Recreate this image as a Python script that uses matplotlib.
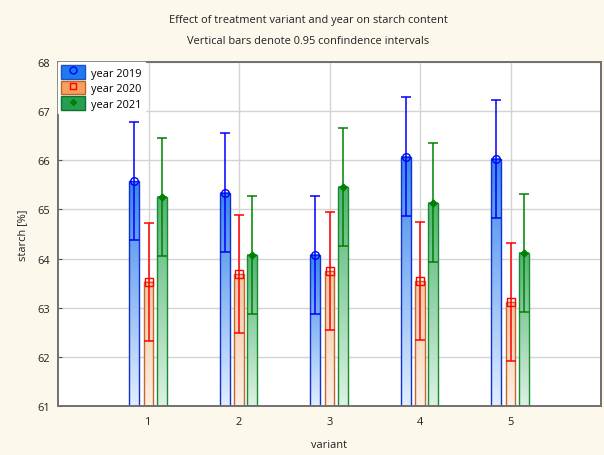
import numpy as np
import matplotlib
matplotlib.use('Agg')
import matplotlib.pyplot as plt
from matplotlib.colors import LinearSegmentedColormap
from matplotlib.patches import Patch
from matplotlib.lines import Line2D

# data
variants = [1, 2, 3, 4, 5]
years = ['year 2019', 'year 2020', 'year 2021']
mean_2019 = [65.57, 65.34, 64.08, 66.07, 66.03]
mean_2020 = [63.53, 63.68, 63.74, 63.54, 63.11]
mean_2021 = [65.26, 64.08, 65.46, 65.14, 64.12]
ci_2019 = [1.20, 1.21, 1.20, 1.21, 1.20]
ci_2020 = [1.20, 1.20, 1.20, 1.20, 1.20]
ci_2021 = [1.20, 1.20, 1.20, 1.21, 1.20]

BG = '#fdf8ec'
plt.rcParams['font.family'] = ['Open Sans', 'DejaVu Sans']
plt.rcParams['font.size'] = 7.9

styles = [
	# gradient bottom, gradient top, bar edge, error colour, marker, legend fill, legend edge
	('#e2eefd', '#3a86ec', '#1030d0', '#0000ff', 'o', '#1e7af0', '#1f4fc0'),
	('#fdf0e4', '#f5c6a0', '#c0682e', '#ff0000', 's', '#f7a060', '#c06428'),
	('#dcf2e3', '#4fb572', '#1a8a30', '#008000', 'D', '#24a050', '#107030'),
]

def draw_bars(ax, x, means, errs, st, width):
	cmap = LinearSegmentedColormap.from_list('g', [st[0], st[1]])
	grad = np.linspace(1, 0, 200).reshape(-1, 1)
	for xi, m in zip(x, means):
		ax.imshow(grad, extent=[xi - width / 2, xi + width / 2, 61, m], aspect='auto',
			cmap=cmap, origin='upper', zorder=1, interpolation='bilinear')
	ax.bar(x, np.array(means) - 61, bottom=61, width=width, facecolor='none',
		edgecolor=st[2], linewidth=1.0, zorder=2)
	ax.errorbar(x, means, yerr=errs, fmt='none', ecolor=st[3], elinewidth=1.1,
		capsize=3.6, capthick=1.1, zorder=3)
	if st[4] == 'D':
		ax.plot(x, means, linestyle='none', marker='D', markersize=3.5, color=st[3], zorder=4)
	else:
		ax.plot(x, means, linestyle='none', marker=st[4], markersize=5.5,
			markerfacecolor='none', markeredgecolor=st[3], markeredgewidth=1.0, zorder=4)

def main():
	fig = plt.figure(figsize=(6.04, 4.56), dpi=100, facecolor=BG)
	ax = fig.add_axes([58 / 604, 1 - 407 / 456, (601 - 58) / 604, (407 - 63) / 456])
	ax.set_facecolor('white')

	x = np.array(variants, dtype=float)
	offs = [-0.155, 0.0, 0.148]
	width = 0.11
	for means, errs, st, off in zip([mean_2019, mean_2020, mean_2021],
			[ci_2019, ci_2020, ci_2021], styles, offs):
		draw_bars(ax, x + off, means, errs, st, width)

	ax.set_xlim(0, 6)
	ax.set_ylim(61, 68)
	ax.set_xticks(variants)
	ax.set_yticks(range(61, 69))
	ax.grid(True, color='#d4d4d4', linewidth=1.0, zorder=0)
	ax.set_axisbelow(True)
	ax.tick_params(direction='in', length=3, color='#555555', labelcolor='#202020', pad=6)
	ax.tick_params(axis='x', pad=7.3)
	for s in ax.spines.values():
		s.set_color('#707070')
		s.set_linewidth(1.4)

	ax.set_xlabel('variant', color='#202020', labelpad=8.8)
	ax.set_ylabel('starch [%]', color='#202020', labelpad=6.5)

	fig.text(308 / 604, 1 - 20 / 456, 'Effect of treatment variant and year on starch content',
		ha='center', va='center', color='#202020')
	fig.text(308 / 604, 1 - 41 / 456, 'Vertical bars denote 0.95 confindence intervals',
		ha='center', va='center', color='#202020')

	handles = []
	for st in styles:
		p = Patch(facecolor=st[5], edgecolor=st[6], linewidth=1.0)
		if st[4] == 'D':
			m = Line2D([], [], linestyle='none', marker='D', markersize=3, color=st[3])
		else:
			m = Line2D([], [], linestyle='none', marker=st[4], markersize=5,
				markerfacecolor='none', markeredgecolor=st[3])
		handles.append((p, m))
	leg = ax.legend(handles, years, loc='upper left', bbox_to_anchor=(0, 1),
		frameon=True, fancybox=False, borderaxespad=0.0, handlelength=2.2,
		handleheight=1.5, handletextpad=0.5, labelspacing=0.2, borderpad=0.3)
	leg.get_frame().set_facecolor('white')
	leg.get_frame().set_edgecolor('white')
	leg.get_frame().set_alpha(1)
	leg.set_zorder(5)

	fig.savefig('out.png', dpi=100, facecolor=BG)
	plt.close(fig)

if __name__ == '__main__':
	main()
